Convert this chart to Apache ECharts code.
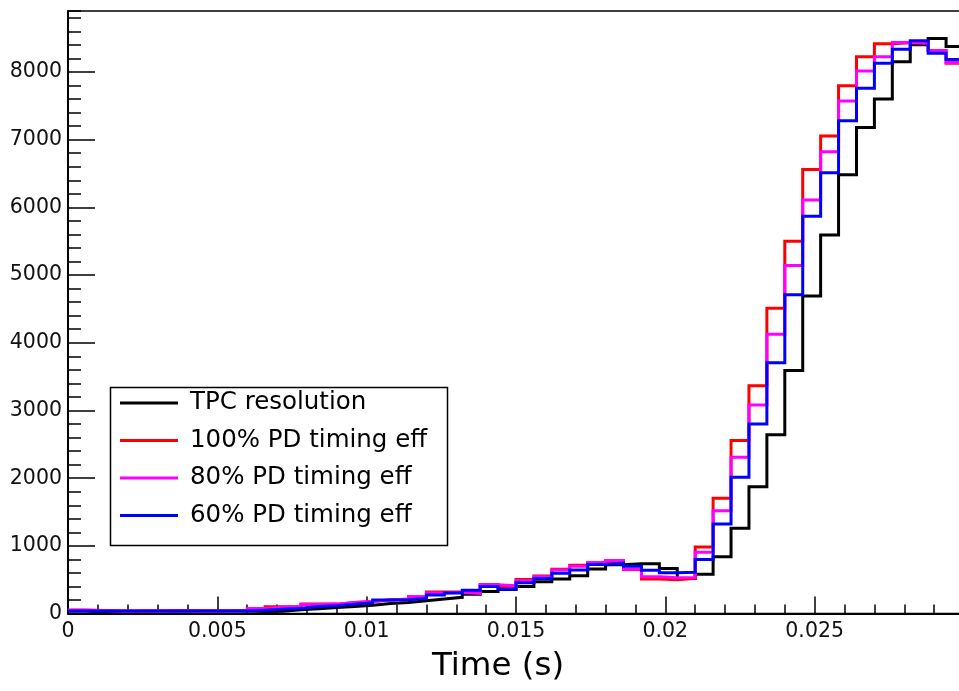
<!DOCTYPE html>
<html>
<head>
<meta charset="utf-8">
<script src="https://cdn.jsdelivr.net/npm/echarts@6/dist/echarts.min.js"></script>
<style>
html,body{margin:0;padding:0;background:#fff;}
#chart{width:959px;height:691px;}
</style>
</head>
<body>
<div id="chart"></div>
<script>
// Histogram: 50 bins of 0.0006 s from 0 to 0.03 s
const binLow = 0;
const binWidth = 0.0006;

const seriesNames = ['TPC resolution', '100% PD timing eff', '80% PD timing eff', '60% PD timing eff'];

const tpcResolution = [40,20,20,35,35,45,40,40,40,40,
  30,35,55,70,90,105,125,150,165,190,
  215,240,285,325,355,400,470,510,560,660,
  720,735,735,665,520,580,840,1260,1875,2640,
  3590,4690,5590,6480,7180,7600,8150,8400,8495,8375];

const pd100 = [50,45,40,40,40,40,40,40,40,45,
  70,100,100,140,140,165,180,205,210,250,
  320,320,310,430,400,505,555,655,715,755,
  780,650,510,500,520,985,1705,2555,3365,4510,
  5500,6560,7055,7795,8225,8415,8430,8435,8315,8130];

const pd80 = [55,45,40,40,40,40,40,40,40,45,
  75,95,100,135,140,165,180,200,215,250,
  305,315,300,425,410,485,545,645,700,755,
  785,655,545,530,535,905,1520,2310,3080,4125,
  5140,6110,6820,7570,8015,8225,8435,8425,8315,8140];

const pd60 = [40,40,40,40,40,35,40,40,40,40,
  50,65,80,105,115,140,160,200,205,225,
  275,305,345,400,360,455,520,595,645,725,
  745,700,640,605,610,800,1325,2015,2800,3705,
  4710,5870,6510,7280,7760,8130,8335,8460,8275,8185];

const xTickLabels = ['0','0.005','0.01','0.015','0.02','0.025'];
const xTickValues = [0,0.005,0.01,0.015,0.02,0.025];
const yTickLabels = ['0','1000','2000','3000','4000','5000','6000','7000','8000'];
const yTickValues = [0,1000,2000,3000,4000,5000,6000,7000,8000];

const colors = ['#000000','#ff0000','#ff00ff','#0000ff'];

function toSteps(vals){
  const pts = vals.map((v,i)=>[binLow + i*binWidth, v]);
  pts.push([binLow + vals.length*binWidth, vals[vals.length-1]]);
  return pts;
}
function lookup(values, labels, v){
  for (let i=0;i<values.length;i++){ if (Math.abs(values[i]-v) < 1e-9) return labels[i]; }
  return '';
}

const FONT = '"DejaVu Sans", Verdana, sans-serif';
const chart = echarts.init(document.getElementById('chart'));
const allData = [tpcResolution, pd100, pd80, pd60];

chart.setOption({
  animation: false,
  backgroundColor: '#ffffff',
  grid: {
    left: 68, top: 11, width: 896, height: 602.6,
    show: true, borderColor: '#000', borderWidth: 1.5,
    containLabel: false, outerBoundsMode: 'none'
  },
  xAxis: [{
    type: 'value', min: 0, max: 0.03, interval: 0.005, position: 'bottom',
    axisLine: {show: true, onZero: false, lineStyle: {color: '#000', width: 2}},
    axisTick: {show: true, inside: true, length: 17, lineStyle: {color: '#000', width: 1.5}},
    axisLabel: {show: true, margin: 8, fontSize: 20.5, fontFamily: FONT, color: '#111',
      showMaxLabel: false,
      formatter: v => lookup(xTickValues, xTickLabels, v)},
    splitLine: {show: false}
  },{
    type: 'value', min: 0, max: 0.03, interval: 0.001, position: 'bottom',
    axisLine: {show: false, onZero: false},
    axisTick: {show: true, inside: true, length: 9, lineStyle: {color: '#000', width: 1.5}},
    axisLabel: {show: false},
    splitLine: {show: false}
  }],
  yAxis: [{
    type: 'value', min: 0, max: 8900, interval: 1000, position: 'left',
    axisLine: {show: true, onZero: false, lineStyle: {color: '#000', width: 2}},
    axisTick: {show: true, inside: true, length: 27, lineStyle: {color: '#000', width: 1.5}},
    axisLabel: {show: true, margin: 6, fontSize: 20.5, fontFamily: FONT, color: '#111',
      showMaxLabel: false,
      formatter: v => lookup(yTickValues, yTickLabels, v)},
    splitLine: {show: false}
  },{
    type: 'value', min: 0, max: 8900, interval: 200, position: 'left',
    axisLine: {show: false, onZero: false},
    axisTick: {show: true, inside: true, length: 13, lineStyle: {color: '#000', width: 1.5}},
    axisLabel: {show: false},
    splitLine: {show: false}
  }],
  legend: {
    show: true, orient: 'vertical', left: 120, top: 390,
    icon: 'rect', itemWidth: 58, itemHeight: 3, itemGap: 11.5,
    padding: 0,
    textStyle: {fontSize: 24.5, fontFamily: FONT, color: '#000', lineHeight: 26, padding: [0,0,0,7]},
    data: seriesNames
  },
  graphic: [{
    type: 'rect', left: 108, top: 385, silent: true, z: 100,
    shape: {width: 337, height: 158},
    style: {fill: 'none', stroke: '#000', lineWidth: 1.5}
  },{
    type: 'text', silent: true, z: 100,
    x: 498, y: 667,
    style: {text: 'Time (s)', fontSize: 32.5, fontFamily: FONT, fill: '#000', align: 'center', verticalAlign: 'middle'}
  }],
  series: allData.map((d, i) => ({
    name: seriesNames[i],
    type: 'line',
    step: 'end',
    xAxisIndex: 0, yAxisIndex: 0,
    data: toSteps(d),
    symbol: 'none', showSymbol: false,
    color: colors[i],
    itemStyle: {color: colors[i]},
    lineStyle: {color: colors[i], width: 3, join: 'miter', cap: 'butt'},
    z: 2 + i
  }))
});
</script>
</body>
</html>
